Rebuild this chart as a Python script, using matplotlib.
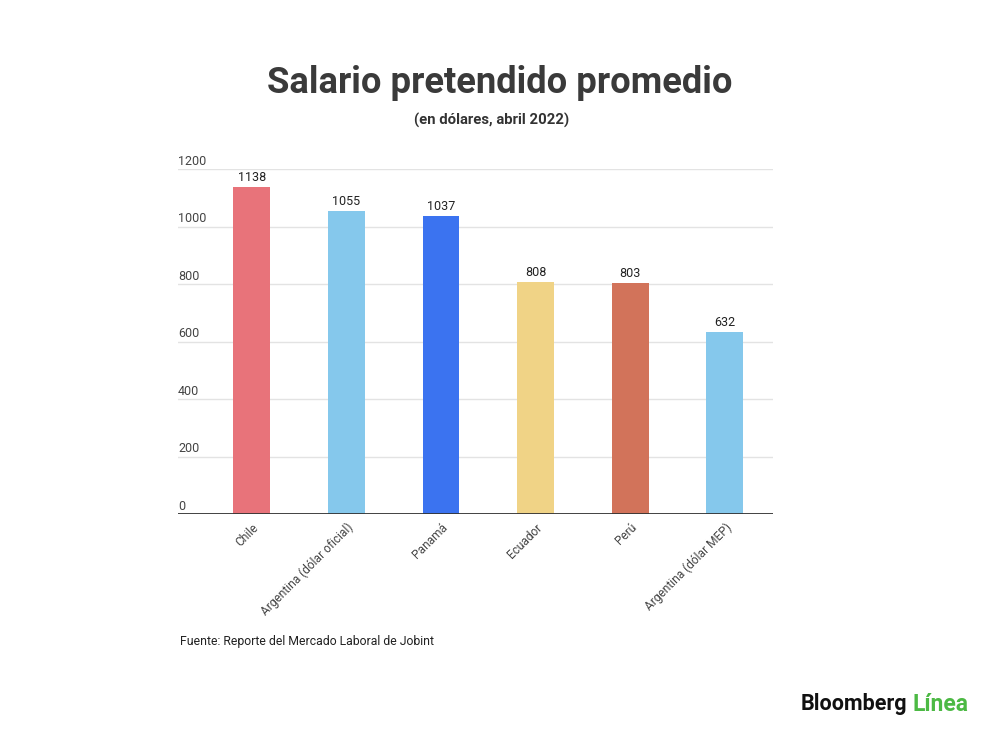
import matplotlib
matplotlib.use("Agg")
import matplotlib.pyplot as plt
from matplotlib.transforms import blended_transform_factory

plt.rcParams['font.family'] = ['Roboto', 'DejaVu Sans']

# datos
paises = ["Chile", "Argentina (dólar oficial)", "Panamá", "Ecuador", "Perú",
          "Argentina (dólar MEP)"]
salarios = [1138, 1055, 1037, 808, 803, 632]
colores = ["#E8737A", "#85C8EC", "#3B73F0", "#F0D386", "#D2735A", "#85C8EC"]
yticks = [0, 200, 400, 600, 800, 1000, 1200]

fig = plt.figure(figsize=(10, 7.32), dpi=100)
ax = fig.add_axes([0.178, 0.2978, 0.595, 0.4712])

x = list(range(len(paises)))
ax.bar(x, salarios, width=0.39, color=colores, zorder=3)
for xi, v in zip(x, salarios):
    ax.text(xi, v + 10, str(v), ha='center', va='bottom', fontsize=9,
            color='#222222', zorder=4)

ax.set_xlim(-0.78, 5.51)
ax.set_ylim(0, 1200)

# grid y etiquetas del eje y sobre cada linea
for t in yticks[1:]:
    ax.axhline(t, color='#e3e3e3', lw=1, zorder=1)
ax.axhline(0, color='#333333', lw=1.3, zorder=5)
trans = blended_transform_factory(ax.transAxes, ax.transData)
for t in yticks:
    ax.text(0, t + 4, str(t), transform=trans, ha='left', va='bottom',
            fontsize=9, color='#444444')

ax.set_yticks([])
ax.set_xticks(x)
ax.set_xticklabels(paises, rotation=45, ha='right', rotation_mode='anchor',
                   fontsize=8.6, color='#444444')
ax.tick_params(axis='x', length=0, pad=5)
for s in ax.spines.values():
    s.set_visible(False)

fig.text(0.5, 0.886, "Salario pretendido promedio", ha='center', va='center',
         fontsize=26.2, fontweight='bold', color='#3a3a3a')
fig.text(0.492, 0.836, "(en dólares, abril 2022)", ha='center', va='center',
         fontsize=10.7, fontweight='bold', color='#333333')
fig.text(0.18, 0.124, "Fuente: Reporte del Mercado Laboral de Jobint",
         ha='left', va='center', fontsize=8.8, color='#222222')

fig.text(0.801, 0.038, "Bloomberg", ha='left', va='center', fontsize=15.5,
         fontweight='bold', color='#111111')
fig.text(0.912, 0.038, "Línea", ha='left', va='center', fontsize=16.5,
         fontweight='bold', color='#4CB944')

fig.savefig("out.png", dpi=100)
